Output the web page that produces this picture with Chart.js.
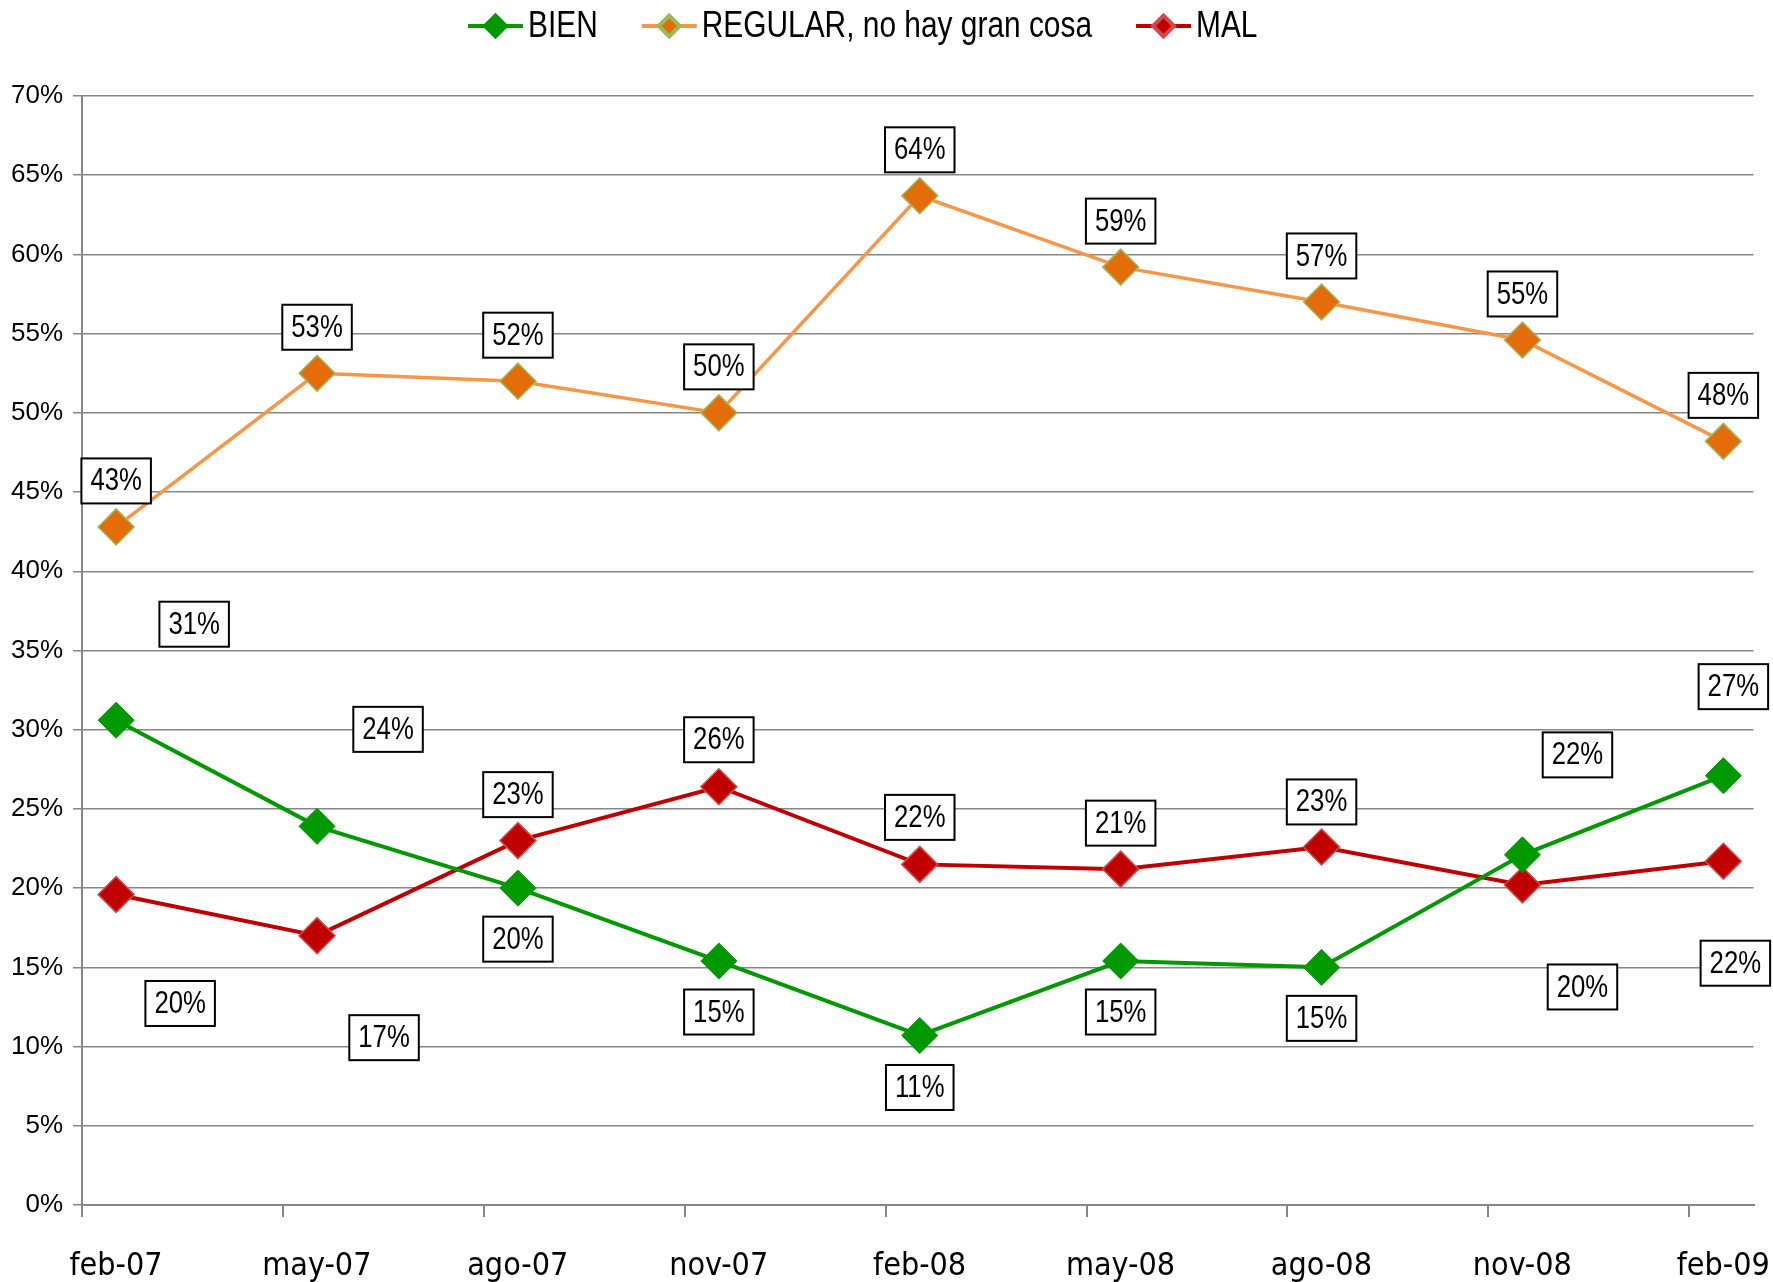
<!DOCTYPE html>
<html>
<head>
<meta charset="utf-8">
<script src="https://cdn.jsdelivr.net/npm/chart.js@4.4.1/dist/chart.umd.min.js"></script>
<style>
html, body { margin: 0; padding: 0; background: #fff; }
</style>
</head>
<body>
<canvas id="chart" width="1773" height="1282"></canvas>
<script>
// Fechas de las encuestas
const fechas = ['feb-07', 'may-07', 'ago-07', 'nov-07', 'feb-08', 'may-08', 'ago-08', 'nov-08', 'feb-09'];

// Porcentajes por respuesta
const bien    = [30.6, 23.9, 20.0, 15.4, 10.7, 15.4, 15.0, 22.1, 27.1];
const regular = [42.8, 52.5, 52.0, 50.0, 63.7, 59.2, 57.0, 54.6, 48.2];
const mal     = [19.6, 17.0, 23.0, 26.4, 21.5, 21.2, 22.6, 20.2, 21.7];

// Marcas del eje vertical
const yMin = 0, yMax = 70, yPaso = 5;

// Desplazamiento de las etiquetas (px) respecto al punto
const despBien    = [[78, -96], [71, -97], [0, 51], [0, 51], [0, 52], [0, 51], [0, 51], [55, -100], [10, -89]];
const despRegular = fechas.map(() => [0, -46]);
const despMal     = [[64, 109], [67, 102], [0, -46], [0, -47], [0, -47], [0, -46], [0, -45], [60, 102], [12, 102]];

const SANS = "'Liberation Sans', Arial, sans-serif";
const CONDENSED = "'DejaVu Sans Condensed', 'Liberation Sans', sans-serif";
const ESTRECHO = 0.83; // Arial Narrow ~ Arial comprimida

function puntos(valores) {
    return valores.map((v, i) => ({ x: i, y: v }));
}

// Texto comprimido horizontalmente (imita Arial Narrow)
function textoEstrecho(ctx, txt, x, y, align) {
    ctx.save();
    ctx.translate(x, y);
    ctx.scale(ESTRECHO, 1);
    ctx.textAlign = align;
    ctx.fillText(txt, 0, 0);
    ctx.restore();
}

// Etiquetas con recuadro
const etiquetasPlugin = {
    id: 'etiquetas',
    afterDatasetsDraw(chart) {
        const ctx = chart.ctx;
        ctx.save();
        ctx.font = '31px ' + SANS;
        ctx.textBaseline = 'middle';
        chart.data.datasets.forEach((ds, d) => {
            const meta = chart.getDatasetMeta(d);
            meta.data.forEach((pt, i) => {
                const txt = Math.round(ds.data[i].y) + '%';
                const off = ds.desp[i];
                const cx = pt.x + off[0];
                const cy = pt.y + off[1];
                const w = ctx.measureText(txt).width * ESTRECHO + 18;
                const h = 45;
                ctx.fillStyle = '#fff';
                ctx.fillRect(cx - w / 2, cy - h / 2, w, h);
                ctx.strokeStyle = '#000';
                ctx.lineWidth = 2;
                ctx.strokeRect(cx - w / 2, cy - h / 2, w, h);
                ctx.fillStyle = '#000';
                textoEstrecho(ctx, txt, cx, cy + 1, 'center');
            });
        });
        ctx.restore();
    }
};

// Leyenda superior
const leyendaPlugin = {
    id: 'leyenda',
    afterDraw(chart) {
        const ctx = chart.ctx;
        ctx.save();
        ctx.font = '36px ' + SANS;
        ctx.textBaseline = 'middle';
        let x = 468;
        const y = 26;
        chart.data.datasets.forEach(ds => {
            ctx.strokeStyle = ds.borderColor;
            ctx.lineWidth = 4;
            ctx.beginPath();
            ctx.moveTo(x, y);
            ctx.lineTo(x + 55, y);
            ctx.stroke();
            ctx.fillStyle = ds.pointBackgroundColor;
            ctx.strokeStyle = ds.pointBorderColor;
            Chart.helpers.drawPoint(ctx, { pointStyle: 'rectRot', radius: 10.5, rotation: 0, borderWidth: 1.2 }, x + 27.5, y);
            ctx.fillStyle = '#000';
            textoEstrecho(ctx, ds.label, x + 60, y + 1, 'left');
            x += 60 + ctx.measureText(ds.label).width * ESTRECHO + 44;
        });
        ctx.restore();
    }
};

new Chart(document.getElementById('chart'), {
    type: 'line',
    data: {
        datasets: [
            {
                label: 'BIEN',
                data: puntos(bien),
                desp: despBien,
                borderColor: '#009900',
                borderWidth: 4,
                pointBackgroundColor: '#009900',
                pointBorderColor: '#009900',
                pointBorderWidth: 1,
                pointStyle: 'rectRot',
                pointRadius: 18,
                tension: 0
            },
            {
                label: 'REGULAR, no hay gran cosa',
                data: puntos(regular),
                desp: despRegular,
                borderColor: '#F79646',
                borderWidth: 3.5,
                pointBackgroundColor: '#E46C0A',
                pointBorderColor: '#9BBB59',
                pointBorderWidth: 1.5,
                pointStyle: 'rectRot',
                pointRadius: 18,
                tension: 0
            },
            {
                label: 'MAL',
                data: puntos(mal),
                desp: despMal,
                borderColor: '#C00000',
                borderWidth: 4,
                pointBackgroundColor: '#C00000',
                pointBorderColor: '#D24B4B',
                pointBorderWidth: 1.5,
                pointStyle: 'rectRot',
                pointRadius: 18,
                tension: 0
            }
        ]
    },
    options: {
        responsive: false,
        animation: false,
        devicePixelRatio: 1,
        layout: { padding: { top: 96, right: 6, left: 0, bottom: 0 } },
        plugins: {
            legend: { display: false },
            tooltip: { enabled: false }
        },
        scales: {
            x: {
                type: 'linear',
                min: -0.17,
                max: 8.15,
                afterBuildTicks: scale => {
                    scale.ticks = fechas.map((f, i) => ({ value: i - 0.17 }));
                },
                afterFit: scale => { scale.height = 77; },
                ticks: {
                    callback: (v, i) => fechas[i],
                    labelOffset: 34,
                    autoSkip: false,
                    maxRotation: 0,
                    padding: 30,
                    color: '#000',
                    font: { family: CONDENSED, size: 32 }
                },
                grid: {
                    drawOnChartArea: false,
                    drawTicks: true,
                    tickLength: 12,
                    color: '#868686',
                    lineWidth: 2
                },
                border: { display: true, color: '#868686', width: 2 }
            },
            y: {
                min: yMin,
                max: yMax,
                afterFit: scale => { scale.width = 82; },
                ticks: {
                    stepSize: yPaso,
                    callback: v => v + '%',
                    padding: 10,
                    color: '#000',
                    font: { family: SANS, size: 26 }
                },
                grid: {
                    color: '#868686',
                    lineWidth: 1.5,
                    tickLength: 9
                },
                border: { display: true, color: '#868686', width: 2 }
            }
        }
    },
    plugins: [etiquetasPlugin, leyendaPlugin]
});
</script>
</body>
</html>
